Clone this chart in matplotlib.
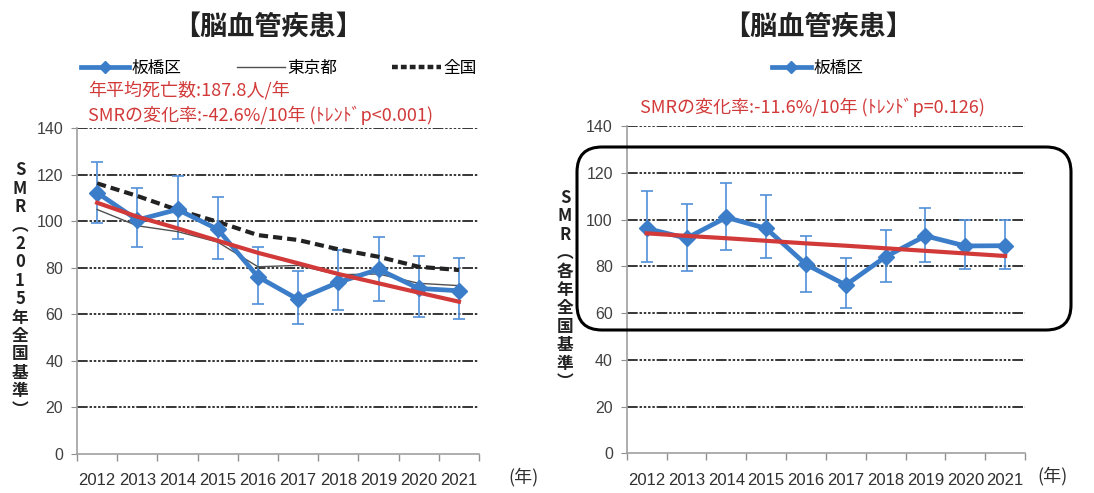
import matplotlib.pyplot as plt
from matplotlib.patches import FancyBboxPatch
from matplotlib.lines import Line2D

plt.rcParams['font.family'] = ['Noto Sans CJK JP', 'DejaVu Sans']
num_font = ['Liberation Sans Narrow', 'Liberation Sans', 'Noto Sans CJK JP']

years = ['2012', '2013', '2014', '2015', '2016', '2017', '2018', '2019', '2020', '2021']

# 左: SMR(2015年全国基準)
itabashi_l = [112.2, 100.5, 105.0, 96.5, 76.1, 66.4, 73.7, 79.3, 71.1, 70.1]
itabashi_l_hi = [125.5, 114.3, 119.4, 110.5, 89.0, 78.6, 87.6, 93.0, 85.0, 84.3]
itabashi_l_lo = [99.3, 89.0, 92.3, 83.6, 64.3, 55.7, 61.8, 65.8, 58.7, 58.0]
tokyo_l = [105.0, 98.0, 95.5, 91.0, 80.4, 81.0, 77.0, 77.3, 73.3, 72.3]
zenkoku_l = [116.2, 110.8, 104.8, 99.7, 94.0, 91.9, 87.9, 84.7, 80.4, 79.0]
trend_l = [107.9, 101.9, 96.9, 91.6, 86.4, 81.9, 77.3, 73.3, 69.3, 65.4]

# 右: SMR(各年全国基準)
itabashi_r = [96.2, 92.0, 100.9, 96.2, 80.8, 72.0, 84.1, 93.0, 88.7, 88.8]
itabashi_r_hi = [112.2, 106.5, 115.5, 110.5, 93.0, 83.7, 95.5, 104.8, 99.8, 99.8]
itabashi_r_lo = [82.0, 78.0, 87.0, 83.7, 69.1, 62.3, 73.1, 82.0, 78.8, 78.8]
trend_r = [94.1, 93.0, 92.0, 90.9, 89.8, 88.8, 87.7, 86.6, 85.5, 84.4]

yticks = [0, 20, 40, 60, 80, 100, 120, 140]

blue = '#3b7dc8'
red = '#d23a3a'
grid_dash = (0, (7, 1.2, 1.6, 1.2, 1.6, 1.2, 1.6, 1.2, 1.6, 1.2))

fig = plt.figure(figsize=(10.94, 4.93), dpi=100)
ax1 = fig.add_axes([0.0704, 0.0791, 0.3675, 0.6613])
ax2 = fig.add_axes([0.5729, 0.0805, 0.3641, 0.6639])

x = [i + 0.5 for i in range(len(years))]


def style(ax, nen_x):
    ax.set_xlim(0, len(years))
    ax.set_ylim(0, 140)
    ax.set_yticks(yticks)
    ax.set_yticklabels([str(v) for v in yticks], family=num_font, fontsize=11.5, color='#404040')
    ax.set_xticks(range(len(years) + 1))
    ax.set_xticklabels([])
    ax.set_xticks(x, minor=True)
    ax.set_xticklabels(years, minor=True, family=num_font, fontsize=12, color='#303030')
    ax.tick_params(axis='x', which='major', direction='out', length=5, color='#909090', width=1)
    ax.tick_params(axis='x', which='minor', length=0, pad=14)
    ax.tick_params(axis='y', direction='out', length=4, color='#909090', pad=6)
    for s in ['top', 'right']:
        ax.spines[s].set_visible(False)
    for s in ['left', 'bottom']:
        ax.spines[s].set_color('#a0a0a0')
        ax.spines[s].set_linewidth(1.2)
    for v in yticks[1:]:
        ax.axhline(v, color='black', lw=1.1, linestyle=grid_dash, zorder=1)
    ax.text(nen_x, -0.07, '(年)', transform=ax.transAxes, fontsize=13, color='#303030',
            va='center', ha='left')


style(ax1, 1.072)
style(ax2, 1.03)

# 左パネル
ax1.errorbar(x, itabashi_l,
             yerr=[[a - b for a, b in zip(itabashi_l, itabashi_l_lo)],
                   [b - a for a, b in zip(itabashi_l, itabashi_l_hi)]],
             fmt='none', ecolor='#5090d8', elinewidth=1.2, capsize=4, capthick=1.2, zorder=3)
ax1.plot(x, zenkoku_l, color='#222222', lw=3, linestyle=(0, (2.2, 1.2)), zorder=4)
ax1.plot(x, tokyo_l, color='#505050', lw=1, zorder=4)
ax1.plot(x, itabashi_l, color=blue, lw=3.4, marker='D', markersize=8, zorder=5)
ax1.plot(x, trend_l, color=red, lw=3, zorder=6)

# 右パネル
ax2.errorbar(x, itabashi_r,
             yerr=[[a - b for a, b in zip(itabashi_r, itabashi_r_lo)],
                   [b - a for a, b in zip(itabashi_r, itabashi_r_hi)]],
             fmt='none', ecolor='#5090d8', elinewidth=1.2, capsize=4, capthick=1.2, zorder=3)
ax2.plot(x, itabashi_r, color=blue, lw=3.4, marker='D', markersize=8, zorder=5)
ax2.plot(x, trend_r, color=red, lw=3, zorder=6)

# タイトル
fig.text(268 / 1094, 1 - 27 / 493, '【脳血管疾患】', ha='center', va='center',
         fontsize=19.5, fontweight='bold', color='#222222')
fig.text(818 / 1094, 1 - 27 / 493, '【脳血管疾患】', ha='center', va='center',
         fontsize=19.5, fontweight='bold', color='#222222')

# 凡例
h_blue = Line2D([], [], color=blue, lw=3.4, marker='D', markersize=6)
h_tokyo = Line2D([], [], color='#505050', lw=1)
h_zen = Line2D([], [], color='#222222', lw=3.2, linestyle=(0, (1.3, 0.7)))
fig.legend([h_blue, h_tokyo, h_zen], ['板橋区', '東京都', '全国'], ncol=3, frameon=False,
           loc='center left', bbox_to_anchor=(81 / 1094, 1 - 68 / 493), fontsize=12,
           handlelength=2.9, handletextpad=0.15, columnspacing=3.3, borderaxespad=0, borderpad=0)
fig.legend([h_blue], ['板橋区'], frameon=False,
           loc='center', bbox_to_anchor=(818 / 1094, 1 - 68 / 493), fontsize=12,
           handlelength=2.3, handletextpad=0.2, borderaxespad=0, borderpad=0)

# 注記
fig.text(88 / 1094, 1 - 90 / 493, '年平均死亡数:187.8人/年', color=red, fontsize=13,
         va='center', ha='left')
fig.text(88 / 1094, 1 - 115 / 493, 'SMRの変化率:-42.6%/10年 (ﾄﾚﾝﾄﾞp<0.001)', color=red,
         fontsize=13, va='center', ha='left')
fig.text(640 / 1094, 1 - 107 / 493, 'SMRの変化率:-11.6%/10年 (ﾄﾚﾝﾄﾞp=0.126)', color=red,
         fontsize=13, va='center', ha='left')

# 縦書きの軸ラベル
fig.text(20 / 1094, 1 - 290 / 493, '\n'.join('SMR︵2015年全国基準︶'), ha='center', va='center',
         fontsize=12, linespacing=1.03, color='#222222', fontweight='bold')
fig.text(565 / 1094, 1 - 290 / 493, '\n'.join('SMR︵各年全国基準︶'), ha='center', va='center',
         fontsize=12, linespacing=1.03, color='#222222', fontweight='bold')

# 右パネルの囲み
box = FancyBboxPatch((5.77, 1.63), 4.94, 1.83, boxstyle='round,pad=0,rounding_size=0.25',
                     transform=fig.dpi_scale_trans, fill=False, ec='black', lw=2.2, zorder=10)
fig.patches.append(box)

fig.savefig('out.png', dpi=100)
